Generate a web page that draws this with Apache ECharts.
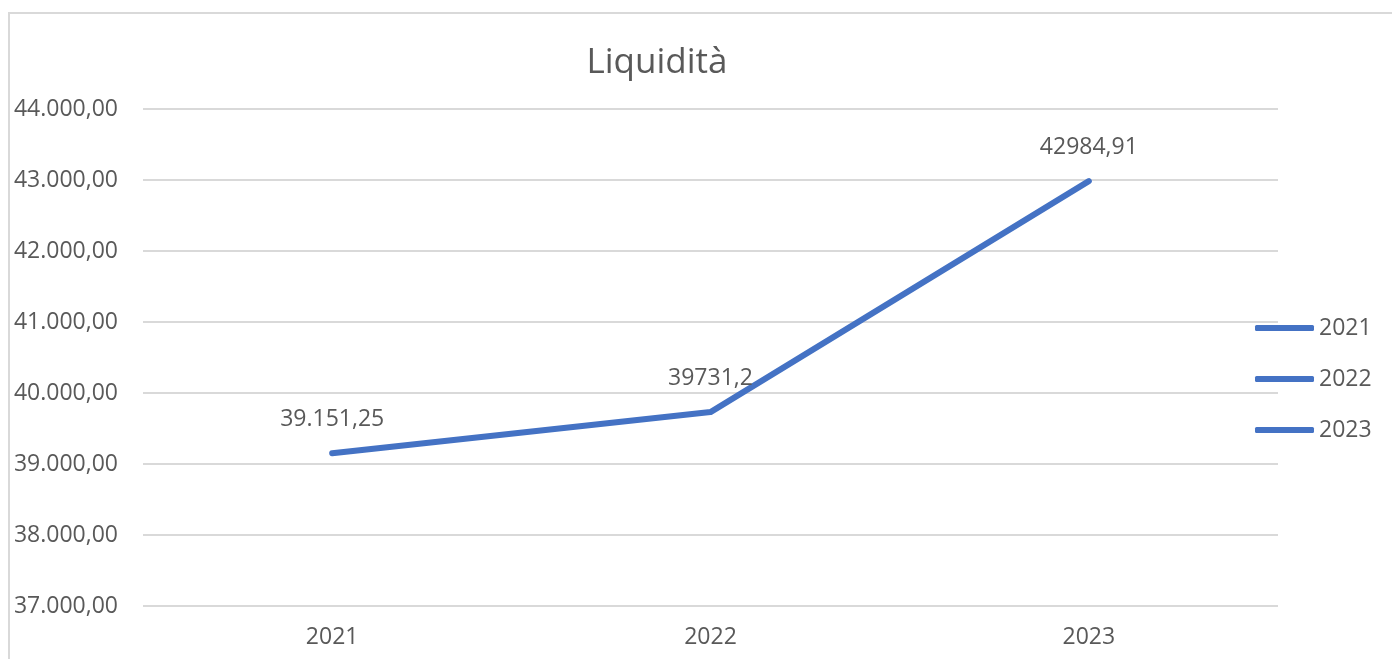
<!DOCTYPE html>
<html>
<head>
<meta charset="utf-8">
<script src="https://cdn.jsdelivr.net/npm/echarts@6/dist/echarts.min.js"></script>
<style>
html,body{margin:0;padding:0;background:#fff;}
#chart{width:1392px;height:659px;}
</style>
</head>
<body>
<div id="chart"></div>
<script>
var categories = ['2021', '2022', '2023'];
var values = [39151.25, 39731.2, 42984.91];
var valueLabels = ['39.151,25', '39731,2', '42984,91'];
var legendNames = ['2021', '2022', '2023'];
var yMin = 37000, yMax = 44000, yStep = 1000;

function fmt(v) {
  var parts = v.toFixed(2).split('.');
  parts[0] = parts[0].replace(/\B(?=(\d{3})+(?!\d))/g, '.');
  return parts[0] + ',' + parts[1];
}

var FONT = 'Open Sans';
var TXT = '#595959';
var BLUE = '#4472C4';

var series = legendNames.map(function (name, i) {
  return {
    name: name,
    type: 'line',
    data: i === 0 ? values : [],
    symbol: 'circle',
    symbolSize: 1,
    showSymbol: true,
    itemStyle: { color: BLUE },
    lineStyle: { color: BLUE, width: 6, cap: 'round', join: 'round' },
    label: {
      show: true,
      position: 'top',
      distance: 22,
      fontFamily: FONT,
      fontSize: 23,
      color: TXT,
      formatter: function (p) { return valueLabels[p.dataIndex]; }
    },
    emphasis: { disabled: true },
    animation: false
  };
});

var chart = echarts.init(document.getElementById('chart'));
chart.setOption({
  backgroundColor: '#fff',
  animation: false,
  graphic: [{
    type: 'rect',
    shape: { x: 9, y: 13, width: 1420, height: 700 },
    style: { fill: 'none', stroke: '#d9d9d9', lineWidth: 2 },
    silent: true
  }],
  title: {
    text: 'Liquidità',
    left: 652,
    textAlign: 'center',
    top: 41,
    textStyle: { fontFamily: FONT, fontSize: 35, fontWeight: 'normal', color: TXT }
  },
  legend: {
    orient: 'vertical',
    left: 1255,
    top: 316,
    padding: 0,
    icon: 'roundRect',
    itemWidth: 59,
    itemHeight: 6,
    itemGap: 27,
    data: legendNames,
    textStyle: { fontFamily: FONT, fontSize: 23, color: TXT, lineHeight: 24 },
    selectedMode: false
  },
  grid: { left: 143, right: 114, top: 109, bottom: 53, containLabel: false },
  xAxis: {
    type: 'category',
    data: categories,
    boundaryGap: true,
    axisLine: { show: false },
    axisTick: { show: false },
    axisLabel: { fontFamily: FONT, fontSize: 23, color: TXT, margin: 20 }
  },
  yAxis: {
    type: 'value',
    min: yMin,
    max: yMax,
    interval: yStep,
    axisLine: { show: false },
    axisTick: { show: false },
    splitLine: { lineStyle: { color: '#d9d9d9', width: 2 } },
    axisLabel: {
      fontFamily: FONT, fontSize: 23, color: TXT, margin: 25,
      formatter: function (v) { return fmt(v); }
    }
  },
  series: series
});
</script>
</body>
</html>
